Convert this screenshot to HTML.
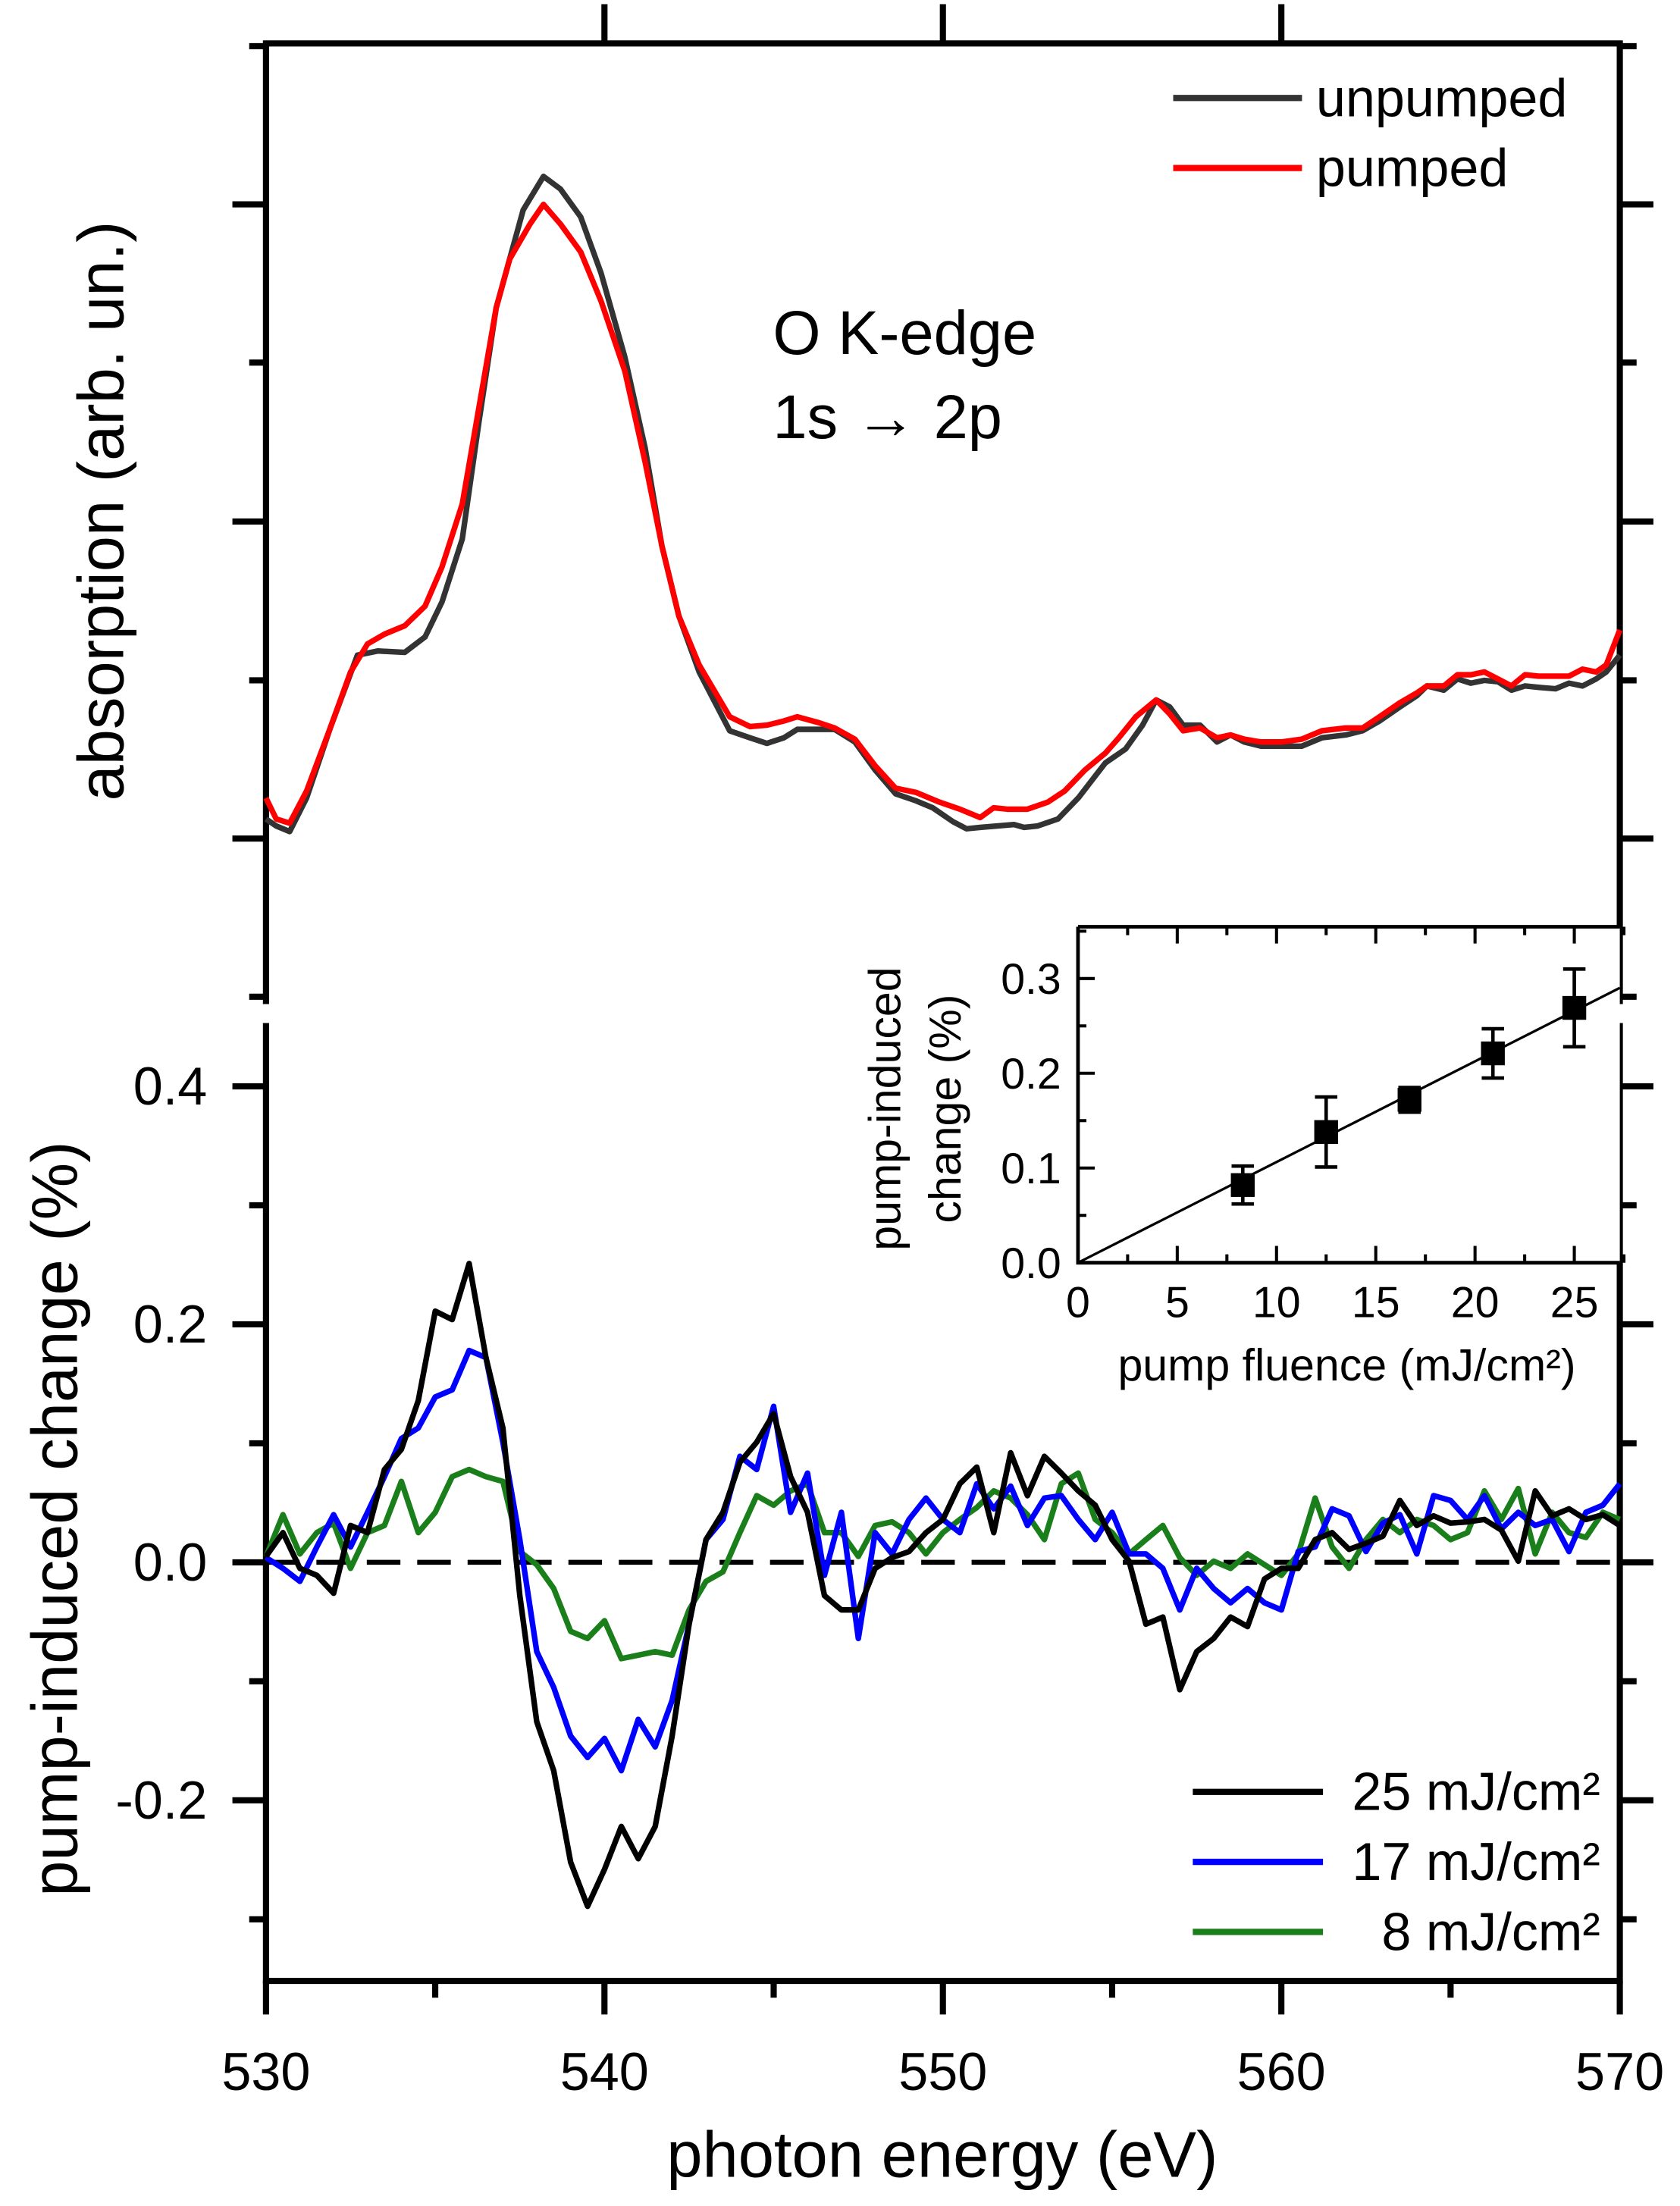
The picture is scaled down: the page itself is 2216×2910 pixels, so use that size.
<!DOCTYPE html>
<html><head><meta charset="utf-8"><title>O K-edge absorption and pump-induced change</title>
<style>
html,body{margin:0;padding:0;background:#fff;}
svg{display:block;font-family:"Liberation Sans",Arial,sans-serif;}
</style></head>
<body>
<svg id="chart" xmlns="http://www.w3.org/2000/svg" width="2216" height="2910" viewBox="0 0 1200 1575.8">
<rect x="0" y="0" width="1200" height="1576" fill="#fff"/>
<g id="top"></g>
<g id="bot"></g>
<g id="ins"></g>
<g id="txt">
<text x="88" y="365" font-size="46" text-anchor="middle" transform="rotate(-90 88 365)">absorption (arb. un.)</text>
<text x="55" y="1085" font-size="46" text-anchor="middle" transform="rotate(-90 55 1085)">pump-induced change (%)</text>
<text x="673" y="1555" font-size="46" text-anchor="middle">photon energy (eV)</text>
<text x="552" y="253" font-size="44">O K-edge</text>
<text x="552" y="313" font-size="44">1s → 2p</text>
<text x="940" y="83" font-size="38">unpumped</text>
<text x="940" y="133" font-size="38">pumped</text>
<text x="1143" y="1293" font-size="38" text-anchor="end">25 mJ/cm²</text>
<text x="1143" y="1343" font-size="38" text-anchor="end">17 mJ/cm²</text>
<text x="1143" y="1393" font-size="38" text-anchor="end">8 mJ/cm²</text>
<text x="962" y="986" font-size="32" text-anchor="middle">pump fluence (mJ/cm²)</text>
<text x="643" y="792" font-size="32" text-anchor="middle" transform="rotate(-90 643 792)">pump-induced</text>
<text x="686" y="792" font-size="32" text-anchor="middle" transform="rotate(-90 686 792)">change (%)</text>
</g>
</svg>
<script>
// ---- top panel data (eV, arb. units)
const unpE=[530.0,530.3,530.7,531.2,531.9,532.7,533.3,534.1,534.7,535.2,535.8,536.3,536.8,537.6,538.2,538.7,539.3,539.9,540.6,541.2,541.7,542.2,542.8,543.7,544.3,544.8,545.3,545.7,546.3,546.8,547.4,548.0,548.6,549.2,549.7,550.3,550.7,551.1,551.6,552.1,552.4,552.8,553.4,554.0,554.8,555.4,555.9,556.3,556.7,557.1,557.6,558.1,558.5,558.9,559.4,560.0,560.6,561.2,561.9,562.4,562.9,563.5,564.0,564.3,564.8,565.2,565.6,566.0,566.4,566.8,567.2,567.6,568.1,568.5,568.9,569.3,569.6,570.0];
const unpV=[0.14,0.09,0.05,0.29,0.79,1.31,1.34,1.33,1.44,1.69,2.14,2.99,3.79,4.49,4.73,4.64,4.44,4.04,3.44,2.79,2.09,1.59,1.19,0.77,0.72,0.68,0.72,0.78,0.78,0.78,0.69,0.49,0.32,0.27,0.22,0.12,0.07,0.08,0.09,0.10,0.08,0.09,0.14,0.29,0.54,0.64,0.81,0.99,0.94,0.81,0.81,0.69,0.74,0.69,0.66,0.66,0.66,0.72,0.74,0.77,0.84,0.94,1.02,1.09,1.06,1.14,1.11,1.13,1.12,1.06,1.09,1.08,1.07,1.11,1.09,1.14,1.19,1.31];
const pumE=[530.0,530.3,530.7,531.2,531.9,532.5,533.0,533.5,534.1,534.7,535.2,535.8,536.3,536.8,537.2,537.8,538.2,538.7,539.3,539.9,540.6,541.2,541.7,542.2,542.8,543.7,544.3,544.8,545.3,545.7,546.3,546.8,547.4,548.0,548.6,549.2,549.9,550.5,551.1,551.5,551.9,552.5,553.1,553.6,554.2,554.8,555.2,555.7,556.3,556.7,557.1,557.6,558.1,558.5,558.9,559.4,560.0,560.6,561.2,561.9,562.4,562.9,563.5,564.0,564.3,564.8,565.2,565.6,566.0,566.4,566.8,567.2,567.6,568.1,568.5,568.9,569.3,569.6,570.0];
const pumV=[0.29,0.14,0.11,0.34,0.79,1.19,1.39,1.46,1.52,1.66,1.94,2.39,3.09,3.79,4.14,4.39,4.53,4.39,4.19,3.84,3.34,2.69,2.09,1.59,1.24,0.87,0.80,0.81,0.84,0.87,0.83,0.79,0.71,0.52,0.36,0.33,0.26,0.21,0.15,0.22,0.21,0.21,0.26,0.34,0.49,0.61,0.72,0.87,0.99,0.89,0.77,0.79,0.72,0.74,0.71,0.69,0.69,0.71,0.77,0.79,0.79,0.87,0.97,1.04,1.09,1.09,1.17,1.17,1.19,1.14,1.09,1.17,1.16,1.16,1.16,1.21,1.19,1.24,1.49];
const topTickVals=[5.66,4.53,3.40,2.265,1.13,0,-1.13];
// ---- bottom panel data (% change), energies 530..570 step 0.5
const f25=[0.005,0.025,-0.005,-0.011,-0.026,0.031,0.025,0.078,0.095,0.136,0.211,0.204,0.251,0.172,0.113,-0.028,-0.134,-0.175,-0.252,-0.289,-0.258,-0.222,-0.249,-0.222,-0.146,-0.052,0.019,0.042,0.084,0.101,0.125,0.072,0.042,-0.028,-0.040,-0.040,-0.005,0.004,0.009,0.025,0.036,0.066,0.080,0.025,0.092,0.056,0.089,0.075,0.060,0.048,0.019,0.001,-0.052,-0.046,-0.107,-0.075,-0.064,-0.046,-0.054,-0.014,-0.005,-0.005,0.019,0.025,0.011,0.016,0.022,0.052,0.031,0.039,0.033,0.034,0.036,0.027,0.001,0.060,0.039,0.045,0.036,0.040,0.031];
const f17=[0.004,-0.005,-0.016,0.013,0.040,0.013,0.042,0.072,0.104,0.113,0.139,0.145,0.178,0.172,0.101,0.019,-0.075,-0.105,-0.146,-0.164,-0.148,-0.175,-0.132,-0.155,-0.116,-0.052,0.019,0.036,0.089,0.078,0.131,0.042,0.075,-0.011,0.042,-0.064,0.025,0.007,0.036,0.054,0.036,0.025,0.066,0.045,0.064,0.031,0.054,0.056,0.036,0.019,0.042,0.007,0.007,-0.005,-0.040,-0.005,-0.022,-0.034,-0.022,-0.034,-0.040,0.009,0.013,0.045,0.039,0.009,0.033,0.040,0.007,0.056,0.052,0.036,0.056,0.028,0.042,0.031,0.036,0.009,0.042,0.048,0.066];
const f8=[0.005,0.040,0.007,0.025,0.033,-0.005,0.025,0.031,0.068,0.025,0.042,0.072,0.078,0.072,0.068,0.009,-0.002,-0.022,-0.058,-0.064,-0.049,-0.081,-0.078,-0.075,-0.078,-0.040,-0.016,-0.008,0.025,0.056,0.048,0.060,0.066,0.025,0.025,0.005,0.031,0.034,0.025,0.007,0.025,0.036,0.046,0.060,0.054,0.040,0.019,0.066,0.075,0.036,0.025,0.007,0.019,0.031,0.004,-0.011,0.001,-0.005,0.007,-0.002,-0.011,0.007,0.054,0.013,-0.005,0.019,0.036,0.025,0.036,0.031,0.019,0.025,0.060,0.036,0.062,0.007,0.042,0.025,0.021,0.042,0.036];
const xTickLabels=["530","540","550","560","570"];
const botTickLabels=["-0.2","0.0","0.2","0.4"];
// ---- inset data
const fluence=[8.3,12.5,16.7,20.9,25.0];
const fluChange=[0.082,0.138,0.172,0.221,0.269];
const fluErr=[0.020,0.037,0.013,0.026,0.041];
const fitSlope=[0.01063];
const insXTicks=["0","5","10","15","20","25"];
const insYTicks=["0.0","0.1","0.2","0.3"];

const NS="http://www.w3.org/2000/svg";
function mk(parent,tag,attrs,text){const e=document.createElementNS(NS,tag);for(const k in attrs)e.setAttribute(k,attrs[k]);if(text!==undefined)e.textContent=text;parent.appendChild(e);return e;}
const L=190,R=1157;
const sx=e=>L+(e-530)*(R-L)/40;
const syT=v=>599-v*100;
const syB=v=>1116-v*850;
const ixs=f=>770+f*14.18;
const iys=v=>902-v*676.7;
const TOP=document.getElementById('top'),BOT=document.getElementById('bot'),INS=document.getElementById('ins');
const AX={stroke:"#000","stroke-width":4.4,fill:"none","stroke-linecap":"square"};

let e;
e=mk(TOP,'path',Object.assign({d:`M${L},715 L${L},31 L${R},31 L${R},715`},AX));


topTickVals.forEach((v,i)=>{
  const y=syT(v); if(y<28||y>720) return; const major=(i%2===1);
  const len=major?24:12;
  const t=mk(TOP,'path',{d:`M${L-len},${y} L${L},${y} M${R},${y} L${R+len},${y}`,stroke:"#000","stroke-width":4.4});
  
  
});
[540,550,560].forEach(v=>{
  const t=mk(TOP,'path',{d:`M${sx(v)},31 L${sx(v)},3`,stroke:"#000","stroke-width":4.4});
  
  
});
function line(parent,xs,ys,color,w,name){
  const d=xs.map((x,i)=>(i?'L':'M')+x.toFixed(1)+','+ys[i].toFixed(1)).join(' ');
  const p=mk(parent,'path',{d:d,stroke:color,"stroke-width":w,fill:"none","stroke-linejoin":"round"});
  
  
  return p;
}
line(TOP,unpE.map(sx),unpV.map(syT),"#333",4,'unpumped-line');
line(TOP,pumE.map(sx),pumV.map(syT),"#f00",4,'pumped-line');
e=mk(TOP,'line',{x1:838,y1:70,x2:930,y2:70,stroke:"#333","stroke-width":4.5});


e=mk(TOP,'line',{x1:838,y1:120,x2:930,y2:120,stroke:"#f00","stroke-width":4.5});



e=mk(BOT,'path',Object.assign({d:`M${L},733 L${L},1415 L${R},1415 L${R},733`},AX));


for(let k=-3;k<=4;k++){
  const v=k/10,y=syB(v);const major=(k%2===0);const len=major?24:12;
  const t=mk(BOT,'path',{d:`M${L-len},${y} L${L},${y} M${R},${y} L${R+len},${y}`,stroke:"#000","stroke-width":4.4});
  
  
}
botTickLabels.forEach(s=>{
  const t=mk(BOT,'text',{x:148,y:syB(parseFloat(s))+13,"font-size":38,"text-anchor":"end"},s);
  
  
});
for(let v=530;v<=570;v+=5){
  const major=(v%10===0);const len=major?24:12;
  const t=mk(BOT,'line',{x1:sx(v),y1:1415,x2:sx(v),y2:1415+len,stroke:"#000","stroke-width":4.4});
  
  
}
xTickLabels.forEach(s=>{
  const t=mk(BOT,'text',{x:sx(+s),y:1493,"font-size":38,"text-anchor":"middle"},s);
  
  
});
e=mk(BOT,'line',{x1:L,y1:syB(0),x2:R,y2:syB(0),stroke:"#000","stroke-width":3.5,"stroke-dasharray":"24 12"});


const energies=f25.map((_,i)=>530+0.5*i);
line(BOT,energies.map(sx),f8.map(syB),"#1a7f1a",4,'series-8mj');
line(BOT,energies.map(sx),f17.map(syB),"#00f",4,'series-17mj');
line(BOT,energies.map(sx),f25.map(syB),"#000",4,'series-25mj');
[["#000",1280,'legend-25-swatch'],["#00f",1330,'legend-17-swatch'],["#1a7f1a",1380,'legend-8-swatch']].forEach(a=>{
  const t=mk(BOT,'line',{x1:852,y1:a[1],x2:945,y2:a[1],stroke:a[0],"stroke-width":4.5});
  
  
});

e=mk(INS,'rect',{x:770,y:662,width:387,height:240,fill:"#fff"});


for(let f=0;f<=27.5;f+=2.5){
  const x=ixs(f);const len=(Math.round(f*2)%10===0)?12:6;
  const t=mk(INS,'path',{d:`M${x},902 L${x},${902-len} M${x},662 L${x},${662+len}`,stroke:"#000","stroke-width":2.2});
  
  
}
for(let k=0;k<=7;k++){
  const y=iys(k*0.05);if(y<662)continue;const len=(k%2===0)?12:6;
  const t=mk(INS,'line',{x1:770,y1:y,x2:770+len,y2:y,stroke:"#000","stroke-width":2.2});
  
  
}
insXTicks.forEach(s=>{
  const t=mk(INS,'text',{x:ixs(+s),y:941,"font-size":31,"text-anchor":"middle"},s);
  
  
});
insYTicks.forEach(s=>{
  const t=mk(INS,'text',{x:758,y:iys(+s)+11,"font-size":31,"text-anchor":"end"},s);
  
  
});
e=mk(INS,'path',{d:`M770,662 L${R},662 M770,662 L770,902 L${R},902`,stroke:"#000","stroke-width":2.6,fill:"none"});


const fEnd=(R-770)/14.18;
e=mk(INS,'line',{x1:ixs(0),y1:iys(0),x2:ixs(fEnd),y2:iys(fitSlope[0]*fEnd),stroke:"#000","stroke-width":1.8});


fluence.forEach((f,i)=>{
  const x=ixs(f),y=iys(fluChange[i]),y1=iys(fluChange[i]+fluErr[i]),y2=iys(fluChange[i]-fluErr[i]);
  const b=mk(INS,'path',{d:`M${x},${y1} L${x},${y2} M${x-8},${y1} L${x+8},${y1} M${x-8},${y2} L${x+8},${y2}`,stroke:"#000","stroke-width":2.5,fill:"none"});
  
  
  const m=mk(INS,'rect',{x:x-8.5,y:y-8.5,width:17,height:17,fill:"#000"});
  
  
});
</script>
</body></html>
